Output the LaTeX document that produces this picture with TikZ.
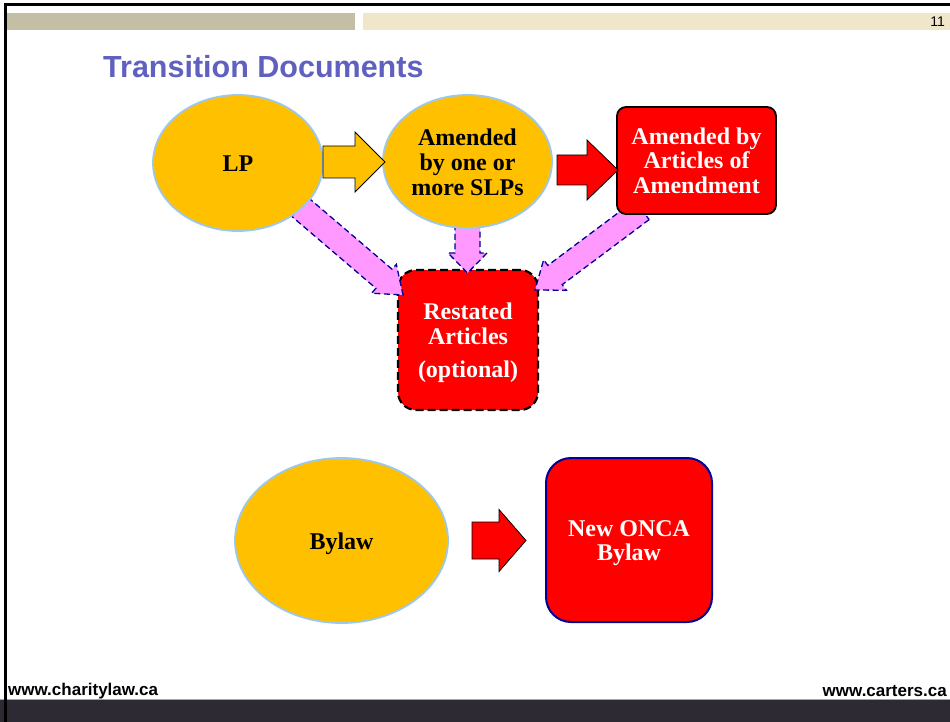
\documentclass[tikz,border=0pt]{standalone}
\usepackage{fontspec}
\setmainfont{Liberation Serif}
\newfontfamily\arialfont{Liberation Sans}
\usetikzlibrary{calc,shapes.geometric}
\pgfdeclarelayer{bg}
\pgfsetlayers{bg,main}
\definecolor{amber}{HTML}{FFC000}
\definecolor{ellborder}{HTML}{9DC8EE}
\definecolor{titleblue}{RGB}{96,96,192}
\definecolor{pinkfill}{HTML}{FF99FF}
\definecolor{navy}{HTML}{000099}
\definecolor{barleft}{RGB}{196,190,164}
\definecolor{barright}{RGB}{240,230,202}
\definecolor{footbar}{RGB}{45,42,52}
\newcommand\blockarrow[6]{%
  \path ($(#3)!#6!(#2)$) coordinate (ba-h);
  \draw[#1] ($(#2)!#4!90:(#3)$) -- ($(ba-h)!#4!90:(#3)$) -- ($(ba-h)!#5!90:(#3)$) -- (#3)
    -- ($(ba-h)!#5!-90:(#3)$) -- ($(ba-h)!#4!-90:(#3)$) -- ($(#2)!#4!-90:(#3)$) -- cycle;}
\tikzset{
  oval/.style={ellipse, fill=amber, draw=ellborder, line width=1.8pt, inner sep=0pt},
  redbox/.style={rectangle, fill=red, inner sep=0pt},
  blacktxt/.style={align=center, inner sep=0pt, text=black, font=\bfseries\fontsize{24}{25}\selectfont},
  whitetxt/.style={align=center, inner sep=0pt, text=white, font=\bfseries\fontsize{24}{24.5}\selectfont},
  pinkarrow/.style={fill=pinkfill, draw=navy, line width=1.3pt, dash pattern=on 6pt off 3.5pt},
  amberarrow/.style={fill=amber, draw=black, line width=0.8pt},
  redarrow/.style={fill=red, draw=black, line width=0.8pt},
  footer/.style={font=\arialfont\bfseries\fontsize{17}{19}\selectfont, inner sep=0pt}
}
\begin{document}
\begin{tikzpicture}[x=1pt,y=-1pt]
\useasboundingbox (0,0) rectangle (950,722);
\begin{pgfonlayer}{bg}
\fill[white] (0,0) rectangle (950,722);
\end{pgfonlayer}
% header bars
\fill[barleft] (7,13) rectangle (355,30);
\fill[barright] (363,13) rectangle (950,30);
\node[anchor=east, font=\arialfont\fontsize{14}{16}\selectfont, inner sep=0pt] (pagenum) at (945,22) {11};
% footer
\fill[footbar] (0,700) rectangle (950,722);
\draw[gray!70, line width=0.8pt] (0,699.5) -- (950,699.5);
\node[footer, anchor=west] (fl) at (8,691) {www.charitylaw.ca};
\node[footer, anchor=east] (fr) at (947,691) {www.carters.ca};
% borders
\draw[line width=3pt] (5,722) -- (5,5) -- (950,5);
% title
\node[anchor=west, inner sep=0pt, text=titleblue, font=\arialfont\bfseries\fontsize{30.5}{34}\selectfont] (title) at (103,67) {Transition Documents};
% restated box (behind pink arrows)
\begin{pgfonlayer}{bg}
\node[redbox, minimum width=140pt, minimum height=140pt, rounded corners=18pt, draw=black, line width=2.2pt, dash pattern=on 8pt off 4pt,
  label={[whitetxt, yshift=-3pt]center:{Restated\\Articles\\[9pt](optional)}}] (RES) at (468,340) {};
\end{pgfonlayer}
% main nodes
\node[oval, minimum width=170pt, minimum height=136pt, label={[blacktxt, yshift=-1pt]center:LP}] (LP) at (238,163) {};
\node[oval, minimum width=169pt, minimum height=133pt, label={[blacktxt, yshift=-1pt]center:{Amended\\by one or\\more SLPs}}] (AM) at (467.5,161.5) {};
\node[redbox, minimum width=159pt, minimum height=107pt, rounded corners=9pt, draw=black, line width=1.8pt,
  label={[whitetxt]center:{Amended by\\Articles of\\Amendment}}] (ART) at (696.5,160.5) {};
\node[oval, minimum width=213pt, minimum height=165pt, label={[blacktxt, yshift=-3pt]center:Bylaw}] (BY) at (341.5,540.5) {};
\node[redbox, minimum width=166pt, minimum height=164pt, rounded corners=25pt, draw=navy, line width=2pt,
  label={[whitetxt, yshift=-3pt]center:{New ONCA\\Bylaw}}] (NEW) at (629,540) {};
% block arrow endpoints
\coordinate (a1s) at (323,162); \coordinate (a1e) at (385,162);
\coordinate (a2s) at (557,170); \coordinate (a2e) at (618,170);
\coordinate (a3s) at (472,540.5); \coordinate (a3e) at (526,540.5);
\blockarrow{amberarrow}{a1s}{a1e}{16pt}{30pt}{30pt}
\blockarrow{redarrow}{a2s}{a2e}{15pt}{30pt}{31pt}
\blockarrow{redarrow}{a3s}{a3e}{18.5pt}{31pt}{27pt}
% pink arrows (behind ellipses)
\coordinate (p1s) at (300,207); \coordinate (p1e) at (403,295);
\coordinate (p2s) at (467.5,222); \coordinate (p2e) at (467.5,273);
\coordinate (p3s) at (642,210); \coordinate (p3e) at (535,290);
\begin{pgfonlayer}{bg}
\blockarrow{pinkarrow}{p1s}{p1e}{12.5pt}{19pt}{25pt}
\blockarrow{pinkarrow}{p2s}{p2e}{12.5pt}{19.5pt}{20pt}
\blockarrow{pinkarrow}{p3s}{p3e}{12pt}{19pt}{25pt}
\end{pgfonlayer}
\end{tikzpicture}
\end{document}
